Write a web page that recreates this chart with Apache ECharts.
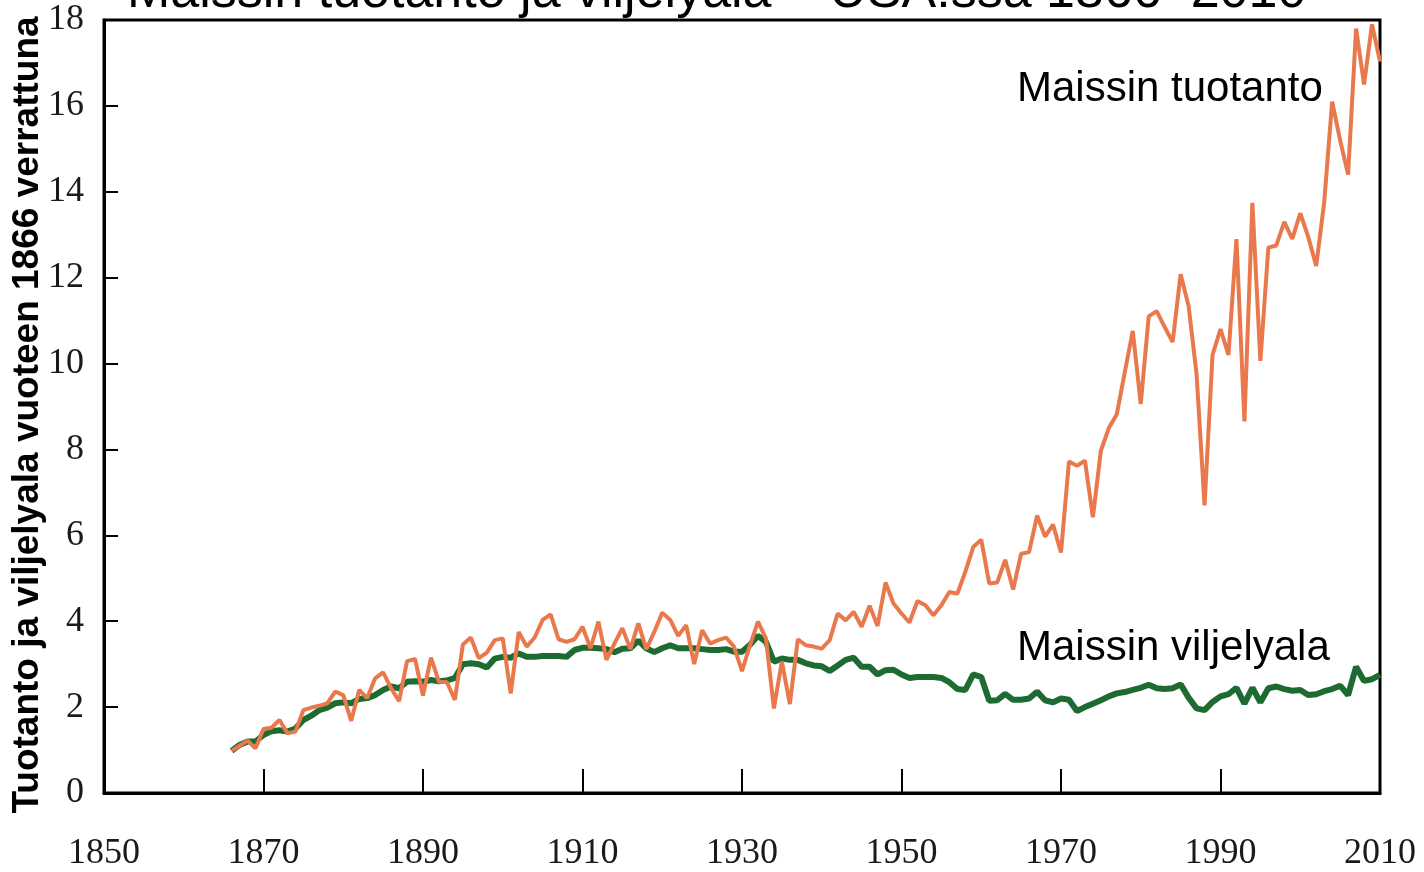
<!DOCTYPE html>
<html>
<head>
<meta charset="utf-8">
<script src="https://cdn.jsdelivr.net/npm/echarts@6/dist/echarts.min.js"></script>
<style>
html,body{margin:0;padding:0;background:#fff;}
#chart{width:1424px;height:872px;}
</style>
</head>
<body>
<div id="chart"></div>
<script>
// Years 1866..2010
const startYear = 1866;
// Maissin tuotanto (production relative to 1866)
const production = [
0.98,1.10,1.22,1.04,1.49,1.52,1.70,1.39,1.43,1.93,
1.99,2.03,2.09,2.36,2.28,1.68,2.40,2.21,2.67,2.81,
2.44,2.14,3.07,3.12,2.27,3.15,2.59,2.58,2.17,3.46,
3.62,3.14,3.27,3.56,3.60,2.32,3.75,3.41,3.62,4.03,
4.16,3.58,3.52,3.58,3.87,3.37,3.99,3.10,3.48,3.84,
3.35,3.95,3.35,3.75,4.20,4.03,3.66,3.91,3.00,3.79,
3.48,3.56,3.62,3.41,2.84,3.44,3.99,3.60,1.97,3.06,
2.07,3.58,3.44,3.41,3.36,3.56,4.18,4.02,4.22,3.87,
4.36,3.89,4.90,4.41,4.18,3.97,4.47,4.37,4.14,4.37,
4.68,4.64,5.15,5.73,5.90,4.88,4.90,5.43,4.74,5.57,
5.61,6.46,5.97,6.25,5.60,7.72,7.62,7.74,6.42,7.97,
8.50,8.82,9.80,10.76,9.06,11.10,11.22,10.85,10.50,12.08,
11.34,9.75,6.70,10.20,10.80,10.20,12.90,8.65,13.74,10.06,
12.70,12.75,13.30,12.90,13.50,12.95,12.27,13.75,16.10,15.20,
14.40,17.80,16.50,17.90,17.03
];
// Maissin viljelyala (acreage relative to 1866)
const acreage = [
0.98,1.12,1.20,1.20,1.35,1.44,1.46,1.43,1.50,1.70,
1.80,1.93,1.99,2.09,2.11,2.09,2.19,2.21,2.28,2.40,
2.48,2.44,2.59,2.60,2.59,2.63,2.60,2.62,2.68,3.00,
3.02,3.00,2.92,3.13,3.17,3.15,3.25,3.17,3.17,3.19,
3.19,3.19,3.17,3.33,3.38,3.38,3.37,3.35,3.28,3.36,
3.37,3.55,3.37,3.28,3.37,3.44,3.37,3.37,3.37,3.35,
3.33,3.33,3.35,3.29,3.29,3.45,3.66,3.52,3.06,3.13,
3.10,3.10,3.02,2.97,2.95,2.84,2.97,3.10,3.15,2.94,
2.94,2.76,2.86,2.87,2.76,2.68,2.70,2.70,2.70,2.68,
2.58,2.42,2.40,2.76,2.70,2.15,2.16,2.31,2.17,2.17,
2.20,2.36,2.16,2.11,2.20,2.17,1.91,2.00,2.08,2.16,
2.25,2.32,2.35,2.40,2.45,2.52,2.44,2.42,2.44,2.53,
2.22,1.97,1.93,2.12,2.25,2.30,2.45,2.08,2.45,2.11,
2.44,2.48,2.42,2.38,2.40,2.28,2.30,2.37,2.42,2.50,
2.28,2.94,2.61,2.65,2.75
];
const titleText = 'Maissin tuotanto ja viljelyala – USA:ssa 1866–2010';
const yAxisTitle = 'Tuotanto ja viljelyala vuoteen 1866 verrattuna';
const labelProduction = 'Maissin tuotanto';
const labelAcreage = 'Maissin viljelyala';

const toPairs = arr => arr.map((v, i) => [startYear + i, v]);
const plain = v => String(v);

const chart = echarts.init(document.getElementById('chart'), null, {renderer: 'canvas'});
chart.setOption({
  backgroundColor: '#ffffff',
  animation: false,
  grid: {left: 104, right: 44, top: 20, bottom: 77, show: true, borderColor: '#000', borderWidth: 3, backgroundColor: 'transparent'},
  xAxis: {
    type: 'value', min: 1850, max: 2010, interval: 20,
    axisLine: {show: true, lineStyle: {color: '#000', width: 3}},
    axisTick: {show: true, inside: true, length: 24, lineStyle: {color: '#000', width: 2}},
    axisLabel: {show: true, margin: 43, color: '#1a1a1a', formatter: plain, fontFamily: '"Liberation Serif", "Times New Roman", serif', fontSize: 36},
    splitLine: {show: false}
  },
  yAxis: {
    type: 'value', min: 0, max: 18, interval: 2,
    axisLine: {show: true, lineStyle: {color: '#000', width: 3}},
    axisTick: {show: true, inside: true, length: 14, lineStyle: {color: '#000', width: 2}},
    axisLabel: {show: true, margin: 20, color: '#1a1a1a', formatter: plain, fontFamily: '"Liberation Serif", "Times New Roman", serif', fontSize: 36},
    splitLine: {show: false}
  },
  series: [
    {type: 'line', name: labelAcreage, data: toPairs(acreage), showSymbol: false, symbol: 'none',
     lineStyle: {color: '#1D6B30', width: 6}, z: 2},
    {type: 'line', name: labelProduction, data: toPairs(production), showSymbol: false, symbol: 'none',
     lineStyle: {color: '#E9794C', width: 4}, z: 3}
  ],
  graphic: [
    {type: 'text', x: 127, y: -7, z: 10, style: {text: titleText, font: '52px "Liberation Sans", Arial, sans-serif', fill: '#000', align: 'left', verticalAlign: 'middle'}},
    {type: 'text', x: 1017, y: 89, z: 10, style: {text: labelProduction, font: '42px "Liberation Sans", Arial, sans-serif', fill: '#000', align: 'left', verticalAlign: 'middle'}},
    {type: 'text', x: 1017, y: 648, z: 10, style: {text: labelAcreage, font: '42px "Liberation Sans", Arial, sans-serif', fill: '#000', align: 'left', verticalAlign: 'middle'}},
    {type: 'text', x: 28, y: 415, rotation: Math.PI / 2, z: 10, style: {text: yAxisTitle, font: 'bold 37px "Liberation Sans", Arial, sans-serif', fill: '#000', align: 'center', verticalAlign: 'middle'}}
  ]
});
</script>
</body>
</html>
